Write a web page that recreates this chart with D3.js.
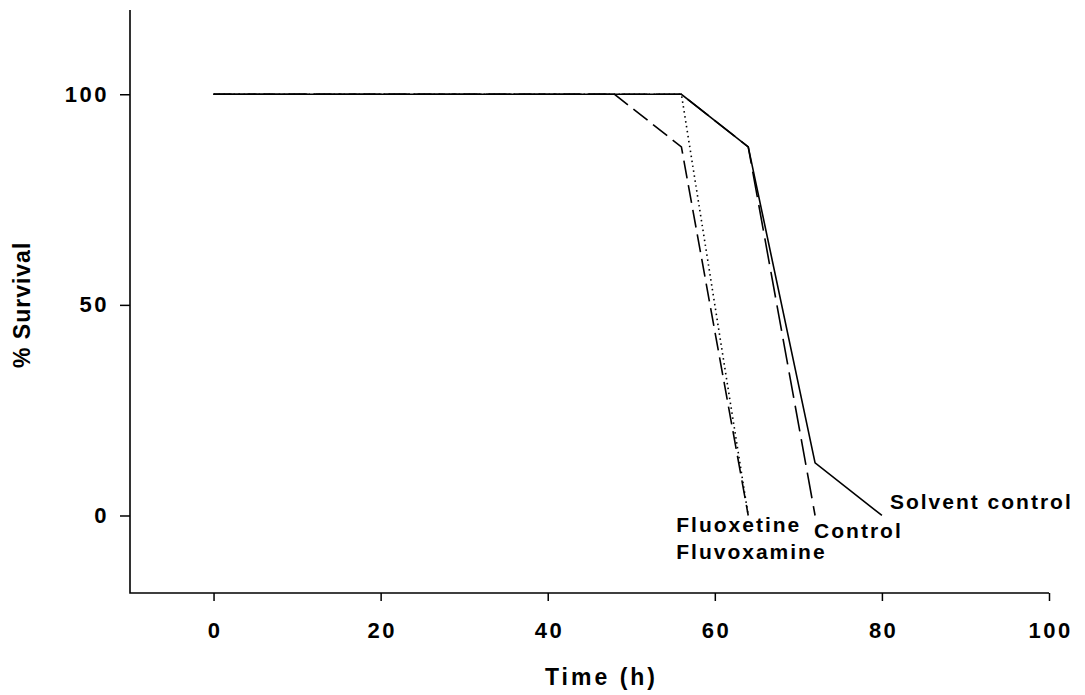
<!DOCTYPE html>
<html>
<head>
<meta charset="utf-8">
<script src="https://cdn.jsdelivr.net/npm/d3@7"></script>
<style>
  body { margin: 0; background: #fff; }
  text { font-family: "Liberation Sans", Arial, sans-serif; font-weight: bold; fill: #000; }
  .tick text { font-size: 22px; letter-spacing: 2.5px; }
  .axis-title { font-size: 23px; }
  .series-label { font-size: 21px; letter-spacing: 2px; }
</style>
</head>
<body>
<svg id="chart"></svg>
<script>
// time points (h) and % survival for each group
const solventTime = [0, 56, 64, 72, 80];
const solventSurv = [100, 100, 87.5, 12.5, 0];
const controlTime = [0, 56, 64, 72];
const controlSurv = [100, 100, 87.5, 0];
const fluvoxTime = [0, 48, 56, 64];
const fluvoxSurv = [100, 100, 87.5, 0];
const fluoxTime = [0, 56, 64];
const fluoxSurv = [100, 100, 0];

const xTicks = [0, 20, 40, 60, 80, 100];
const yTicks = [0, 50, 100];

// label anchored to the last point of each series, shifted by dx/dy
const series = [
  {name: 'Fluoxetine', t: fluoxTime, s: fluoxSurv, dash: '1.5,3.5', dx: -72, dy: 17},
  {name: 'Fluvoxamine', t: fluvoxTime, s: fluvoxSurv, dash: '18,7', dx: -72, dy: 44},
  {name: 'Control', t: controlTime, s: controlSurv, dash: '26,8', dx: -1, dy: 23},
  {name: 'Solvent control', t: solventTime, s: solventSurv, dash: null, dx: 8, dy: -6}
];

const width = 1085, height = 695;
const margin = {top: 10, right: 36, bottom: 102, left: 130};
const innerW = width - margin.left - margin.right;
const innerH = height - margin.top - margin.bottom;

const svg = d3.select('#chart')
    .attr('width', width)
    .attr('height', height);

const chart = svg.append('g')
    .attr('transform', `translate(${margin.left},${margin.top})`);

const xScale = d3.scaleLinear().domain([-10, 100]).range([0, innerW]);
const yScale = d3.scaleLinear().domain([-18.4, 120]).range([innerH, 0]);

const xAxis = d3.axisBottom(xScale).tickValues(xTicks).tickSize(8).tickPadding(21);
const yAxis = d3.axisLeft(yScale).tickValues(yTicks).tickSize(10).tickPadding(11);

const xAxisG = chart.append('g')
    .attr('class', 'axis x-axis')
    .attr('transform', `translate(0,${innerH})`)
    .call(xAxis);

const yAxisG = chart.append('g')
    .attr('class', 'axis y-axis')
    .call(yAxis);

// plain L-shaped frame, no end caps
[xAxisG, yAxisG].forEach(g => {
  g.select('.domain').remove();
  g.selectAll('.tick line').attr('stroke', '#000').attr('stroke-width', 1.5);
});
// letter-spacing trails after the last glyph, nudge x labels to stay centred
xAxisG.selectAll('.tick text').attr('dx', 1.2);

chart.append('path')
    .attr('d', `M0,0V${innerH}H${innerW}`)
    .attr('fill', 'none')
    .attr('stroke', '#000')
    .attr('stroke-width', 1.6);

const line = d3.line()
    .x(d => xScale(d[0]))
    .y(d => yScale(d[1]));

chart.selectAll('.series')
    .data(series)
  .join('path')
    .attr('class', 'series')
    .attr('d', d => line(d.t.map((t, i) => [t, d.s[i]])))
    .attr('fill', 'none')
    .attr('stroke', '#000')
    .attr('stroke-width', 1.6)
    .attr('stroke-dasharray', d => d.dash);

chart.selectAll('.series-label')
    .data(series)
  .join('text')
    .attr('class', 'series-label')
    .attr('x', d => xScale(d.t[d.t.length - 1]) + d.dx)
    .attr('y', d => yScale(d.s[d.s.length - 1]) + d.dy)
    .text(d => d.name);

// axis titles
svg.append('text')
    .attr('class', 'axis-title')
    .attr('x', margin.left + innerW / 2 + 12)
    .attr('y', 685)
    .attr('text-anchor', 'middle')
    .style('letter-spacing', '3px')
    .text('Time (h)');

svg.append('text')
    .attr('class', 'axis-title')
    .attr('transform', `translate(30,${margin.top + yScale(50)}) rotate(-90)`)
    .attr('text-anchor', 'middle')
    .style('letter-spacing', '1px')
    .text('% Survival');
</script>
</body>
</html>
